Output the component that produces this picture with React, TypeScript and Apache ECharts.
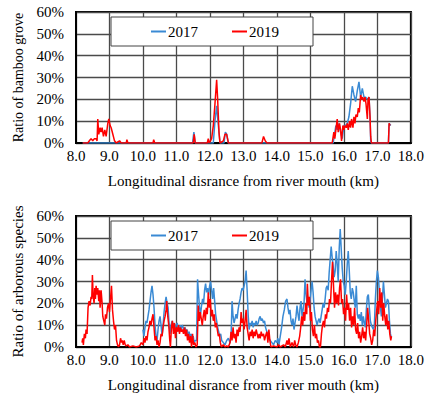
import React, { useEffect, useRef } from "react";
import * as echarts from "echarts";

type P = [number, number];

const years = ["2017", "2019"];
const xTicks = { min: 8, max: 18, interval: 1 };
const yTicks = { min: 0, max: 60, interval: 10 };
const titleTop = "Ratio of bamboo grove";
const titleBottom = "Ratio of arborous species";
const xTitle = "Longitudinal disrance from river mouth (km)";

const bamboo2017: P[] = [
  [8.2, 0], [11.48, 0], [11.52, 5], [11.56, 0], [12.1, 0], [12.15, 10], [12.2, 17], [12.25, 8], [12.3, 0],
  [12.42, 0], [12.46, 5], [12.5, 4], [12.55, 0], [15.68, 0], [15.72, 4], [15.76, 8], [15.8, 6], [15.85, 9],
  [15.9, 5], [15.95, 2], [16.0, 8], [16.05, 8], [16.1, 9], [16.15, 12], [16.2, 18], [16.25, 26], [16.3, 22],
  [16.35, 19], [16.4, 24], [16.45, 28], [16.5, 21], [16.55, 25], [16.6, 21], [16.65, 21], [16.7, 20],
  [16.75, 21], [16.78, 12], [16.8, 1], [16.82, 0], [17.33, 0], [17.35, 9], [17.4, 8],
];

const bamboo2019: P[] = [
  [8.2, 0], [8.35, 0], [8.4, 1], [8.45, 2], [8.5, 1], [8.55, 2], [8.6, 2], [8.63, 1], [8.65, 11], [8.68, 4],
  [8.72, 7], [8.75, 5], [8.78, 7], [8.82, 3], [8.86, 6], [8.9, 3], [8.95, 9], [8.98, 11], [9.02, 8], [9.05, 7],
  [9.1, 4], [9.15, 1], [9.2, 0], [9.3, 1], [9.35, 0], [9.5, 0], [9.52, 1.5], [9.55, 0], [10.3, 0], [10.32, 1.5],
  [10.35, 0], [11.5, 0], [11.53, 4], [11.56, 0], [11.92, 0], [11.95, 2], [11.98, 0], [12.05, 2], [12.1, 8],
  [12.15, 18], [12.2, 29], [12.23, 20], [12.27, 5], [12.3, 0], [12.4, 1], [12.45, 4], [12.5, 4], [12.55, 0],
  [13.55, 0], [13.6, 3], [13.65, 1], [13.7, 0], [15.65, 0], [15.7, 5], [15.73, 2], [15.76, 6], [15.8, 11],
  [15.83, 5], [15.87, 9], [15.9, 6], [15.93, 1], [15.97, 8], [16.0, 6], [16.03, 8], [16.07, 7], [16.1, 9],
  [16.13, 6], [16.17, 10], [16.2, 7], [16.23, 11], [16.27, 7], [16.3, 12], [16.33, 9], [16.36, 13], [16.4, 12],
  [16.43, 16], [16.46, 14], [16.5, 22], [16.53, 20], [16.56, 21], [16.6, 19], [16.63, 21], [16.66, 18],
  [16.7, 11], [16.72, 20], [16.75, 21], [16.78, 12], [16.8, 3], [16.82, 0], [17.33, 0], [17.35, 9],
  [17.38, 8], [17.4, 8],
];

const arbor2017: P[] = [
  [10.0, 8], [10.03, 5], [10.06, 9], [10.09, 12], [10.12, 11], [10.15, 14], [10.18, 17], [10.21, 21], [10.24, 25],
  [10.27, 28], [10.3, 24], [10.33, 18], [10.36, 10], [10.39, 5], [10.42, 3], [10.45, 8], [10.48, 12], [10.51, 14],
  [10.54, 10], [10.57, 5], [10.6, 10], [10.63, 16], [10.66, 20], [10.69, 23], [10.72, 20], [10.75, 18], [10.78, 11],
  [10.81, 6], [10.84, 10], [10.87, 12], [10.9, 9], [10.93, 11], [10.96, 8], [10.99, 10], [11.02, 11], [11.05, 9],
  [11.08, 7], [11.11, 10], [11.14, 8], [11.17, 10], [11.2, 9], [11.23, 7], [11.26, 9], [11.29, 6], [11.32, 8],
  [11.35, 5], [11.38, 7], [11.41, 4], [11.44, 6], [11.47, 3], [11.5, 5], [11.53, 2], [11.56, 3], [11.6, 3],
  [11.63, 31], [11.66, 24], [11.69, 18], [11.72, 15], [11.75, 19], [11.78, 22], [11.81, 20], [11.84, 26],
  [11.87, 29], [11.9, 25], [11.93, 27], [11.96, 24], [11.99, 28], [12.02, 30], [12.05, 26], [12.08, 22],
  [12.11, 27], [12.14, 21], [12.17, 15], [12.2, 12], [12.23, 9], [12.26, 7], [12.29, 5], [12.32, 6], [12.35, 3],
  [12.4, 2], [12.45, 1], [12.5, 3], [12.55, 4], [12.6, 2], [12.63, 4], [12.66, 21], [12.69, 14], [12.72, 11],
  [12.75, 13], [12.78, 15], [12.81, 13], [12.84, 17], [12.87, 20], [12.9, 22], [12.93, 25], [12.96, 27],
  [12.99, 26], [13.02, 28], [13.05, 30], [13.08, 35], [13.11, 26], [13.14, 15], [13.17, 8], [13.2, 11],
  [13.23, 10], [13.26, 12], [13.29, 9], [13.32, 11], [13.35, 10], [13.38, 12], [13.41, 10], [13.44, 11],
  [13.47, 13], [13.5, 14], [13.53, 12], [13.56, 13], [13.6, 11], [13.63, 12], [13.66, 9], [13.7, 7], [13.73, 5],
  [13.76, 4], [13.8, 3], [13.85, 2], [13.9, 1], [13.95, 3], [14.0, 2], [14.03, 4], [14.06, 1], [14.1, 5],
  [14.14, 9], [14.18, 14], [14.22, 17], [14.26, 21], [14.3, 22], [14.33, 18], [14.36, 15], [14.39, 17],
  [14.42, 12], [14.45, 10], [14.48, 13], [14.51, 8], [14.54, 11], [14.57, 14], [14.6, 19], [14.63, 15],
  [14.66, 12], [14.69, 18], [14.72, 21], [14.75, 14], [14.78, 17], [14.81, 20], [14.84, 31], [14.87, 24],
  [14.9, 20], [14.93, 22], [14.96, 18], [14.99, 21], [15.02, 26], [15.05, 30], [15.08, 25], [15.11, 18],
  [15.14, 14], [15.17, 12], [15.2, 10], [15.23, 12], [15.26, 13], [15.29, 11], [15.32, 14], [15.35, 17],
  [15.38, 20], [15.41, 18], [15.44, 22], [15.47, 27], [15.5, 28], [15.53, 26], [15.56, 34], [15.59, 40],
  [15.62, 46], [15.65, 41], [15.68, 37], [15.71, 32], [15.74, 35], [15.77, 44], [15.8, 38], [15.83, 30],
  [15.86, 45], [15.89, 54], [15.92, 45], [15.95, 36], [15.98, 30], [16.01, 28], [16.04, 24], [16.07, 30],
  [16.1, 38], [16.13, 44], [16.16, 35], [16.19, 25], [16.22, 22], [16.25, 27], [16.28, 25], [16.31, 21],
  [16.34, 18], [16.37, 28], [16.4, 15], [16.43, 13], [16.46, 15], [16.49, 12], [16.52, 16], [16.55, 10],
  [16.58, 14], [16.61, 11], [16.64, 9], [16.67, 17], [16.7, 23], [16.73, 24], [16.76, 18], [16.79, 12],
  [16.82, 10], [16.85, 9], [16.88, 8], [16.91, 10], [16.94, 22], [16.97, 30], [17.0, 35], [17.03, 32],
  [17.06, 25], [17.09, 18], [17.12, 14], [17.15, 22], [17.18, 30], [17.21, 24], [17.24, 18], [17.27, 20],
  [17.3, 22], [17.33, 21], [17.36, 12], [17.39, 6], [17.42, 4],
];

const arbor2019: P[] = [
  [8.18, 2], [8.2, 4], [8.22, 1], [8.25, 6], [8.28, 4], [8.3, 8], [8.33, 6], [8.36, 18], [8.39, 21], [8.42, 19],
  [8.45, 23], [8.47, 22], [8.49, 33], [8.51, 24], [8.54, 20], [8.56, 27], [8.58, 22], [8.6, 28], [8.63, 24],
  [8.65, 27], [8.68, 21], [8.7, 26], [8.72, 18], [8.75, 26], [8.78, 20], [8.8, 14], [8.83, 12], [8.86, 10],
  [8.88, 15], [8.91, 13], [8.94, 18], [8.97, 20], [9.0, 16], [9.03, 22], [9.06, 28], [9.09, 17], [9.12, 12],
  [9.15, 8], [9.18, 10], [9.21, 3], [9.24, 1], [9.27, 0], [9.3, 1], [9.33, 4], [9.36, 2], [9.38, 3], [9.41, 1],
  [9.44, 3], [9.47, 1], [9.5, 0.5], [9.55, 1], [9.6, 0], [9.7, 0.5], [9.8, 0], [9.9, 0.5], [9.95, 2], [10.0, 1],
  [10.03, 4], [10.06, 2], [10.09, 5], [10.12, 3], [10.15, 7], [10.18, 9], [10.21, 12], [10.24, 10], [10.27, 13],
  [10.3, 15], [10.33, 9], [10.36, 3], [10.39, 5], [10.42, 1], [10.45, 3], [10.48, 0], [10.51, 2], [10.54, 6],
  [10.57, 5], [10.6, 9], [10.63, 12], [10.66, 14], [10.69, 17], [10.71, 21], [10.74, 14], [10.77, 10], [10.8, 3],
  [10.82, 0], [10.85, 9], [10.88, 12], [10.91, 6], [10.94, 11], [10.97, 4], [11.0, 9], [11.03, 7], [11.06, 10],
  [11.09, 6], [11.12, 9], [11.15, 7], [11.18, 8], [11.21, 6], [11.24, 9], [11.27, 5], [11.3, 8], [11.33, 3],
  [11.36, 6], [11.39, 2], [11.42, 5], [11.45, 0], [11.48, 6], [11.51, 1], [11.55, 2], [11.58, 0], [11.62, 1],
  [11.65, 19], [11.68, 12], [11.71, 16], [11.74, 13], [11.77, 10], [11.8, 14], [11.83, 17], [11.86, 12],
  [11.89, 18], [11.92, 15], [11.95, 25], [11.98, 18], [12.01, 22], [12.04, 14], [12.07, 17], [12.1, 12],
  [12.13, 15], [12.16, 9], [12.19, 11], [12.22, 8], [12.25, 5], [12.28, 6], [12.31, 2], [12.34, 0], [12.4, 1],
  [12.45, 0], [12.5, 0.5], [12.55, 0], [12.6, 2], [12.63, 7], [12.66, 3], [12.69, 9], [12.72, 4], [12.75, 6],
  [12.78, 2], [12.81, 8], [12.84, 5], [12.87, 9], [12.9, 7], [12.93, 16], [12.96, 11], [12.99, 13], [13.02, 8],
  [13.05, 12], [13.08, 17], [13.11, 9], [13.14, 6], [13.17, 3], [13.2, 7], [13.23, 5], [13.26, 8], [13.29, 4],
  [13.32, 7], [13.35, 5], [13.38, 8], [13.41, 6], [13.44, 4], [13.47, 6], [13.5, 4], [13.53, 7], [13.56, 5],
  [13.6, 6], [13.63, 3], [13.66, 5], [13.7, 7], [13.73, 2], [13.76, 8], [13.79, 3], [13.82, 0], [13.9, 0.5],
  [14.0, 0], [14.05, 1], [14.1, 0], [14.15, 0.5], [14.2, 1], [14.25, 0], [14.3, 3], [14.33, 1], [14.36, 4],
  [14.4, 0], [14.45, 2], [14.5, 0], [14.53, 3], [14.56, 1], [14.6, 0], [14.64, 2], [14.68, 5], [14.71, 9],
  [14.74, 14], [14.77, 10], [14.8, 16], [14.83, 12], [14.86, 20], [14.89, 15], [14.91, 29], [14.94, 19],
  [14.97, 23], [15.0, 12], [15.03, 16], [15.06, 8], [15.09, 5], [15.12, 10], [15.15, 4], [15.18, 6], [15.21, 2],
  [15.24, 3], [15.27, 0], [15.3, 0], [15.33, 6], [15.36, 10], [15.39, 12], [15.42, 9], [15.45, 15], [15.48, 13],
  [15.51, 18], [15.54, 16], [15.57, 22], [15.6, 20], [15.63, 30], [15.66, 39], [15.69, 28], [15.72, 18],
  [15.75, 25], [15.78, 20], [15.81, 24], [15.84, 19], [15.87, 27], [15.9, 31], [15.93, 20], [15.96, 22],
  [15.99, 15], [16.02, 18], [16.05, 12], [16.08, 24], [16.11, 17], [16.14, 20], [16.17, 12], [16.2, 18],
  [16.23, 9], [16.26, 14], [16.29, 10], [16.32, 18], [16.35, 8], [16.38, 6], [16.41, 11], [16.44, 4], [16.47, 7],
  [16.5, 2], [16.53, 5], [16.56, 9], [16.59, 4], [16.62, 7], [16.65, 3], [16.68, 10], [16.71, 18], [16.74, 12],
  [16.77, 6], [16.8, 4], [16.83, 1], [16.86, 3], [16.89, 8], [16.92, 5], [16.95, 12], [16.98, 17], [17.01, 21],
  [17.04, 15], [17.07, 27], [17.1, 18], [17.13, 25], [17.16, 12], [17.19, 20], [17.22, 14], [17.25, 10],
  [17.28, 15], [17.31, 8], [17.34, 12], [17.37, 6], [17.4, 3], [17.42, 5],
];

const BLUE = "#3a8ad4";
const RED = "#ff0000";
const FONT = "Liberation Serif";

export default function App() {
  const ref = useRef<HTMLDivElement>(null);
  useEffect(() => {
    if (!ref.current) return;
    const chart = echarts.init(ref.current, undefined, { renderer: "svg" });
    const grids = [
      { left: 76, top: 12, width: 335, height: 131 },
      { left: 76, top: 216, width: 335, height: 131 },
    ];
    const xAxis = grids.map((_, i) => ({
      type: "value",
      gridIndex: i,
      min: xTicks.min,
      max: xTicks.max,
      interval: xTicks.interval,
      name: xTitle,
      nameLocation: "middle",
      nameGap: 30,
      nameTextStyle: { fontFamily: FONT, fontSize: 15, color: "#000" },
      axisLine: { show: true, onZero: false, lineStyle: { color: "#000", width: 2 } },
      axisTick: { show: false },
      axisLabel: {
        fontFamily: FONT,
        fontSize: 15,
        color: "#000",
        margin: 5,
        formatter: (v: number) => v.toFixed(1),
      },
      splitLine: { show: true, lineStyle: { color: "#4a4a4a", width: 1.3 } },
    }));
    const yAxis = grids.map((_, i) => ({
      type: "value",
      gridIndex: i,
      min: yTicks.min,
      max: yTicks.max,
      interval: yTicks.interval,
      name: i === 0 ? titleTop : titleBottom,
      nameLocation: "middle",
      nameGap: 48,
      nameTextStyle: { fontFamily: FONT, fontSize: i === 0 ? 14 : 15, color: "#000" },
      axisLine: { show: true, lineStyle: { color: "#000", width: 2 } },
      axisTick: { show: false },
      axisLabel: {
        fontFamily: FONT,
        fontSize: 15,
        color: "#000",
        margin: 12,
        formatter: (v: number) => `${v}%`,
      },
      splitLine: { show: true, lineStyle: { color: "#4a4a4a", width: 1.3 } },
    }));
    const legendBase = {
      data: years,
      left: 111,
      orient: "horizontal",
      icon: "rect",
      itemWidth: 15,
      itemHeight: 2,
      itemGap: 34,
      padding: [7, 34, 7, 40],
      backgroundColor: "#fff",
      borderColor: "#444",
      borderWidth: 1,
      textStyle: { fontFamily: FONT, fontSize: 15, color: "#000", padding: [0, 0, 0, -3] },
      selectedMode: false,
    };
    const mk = (name: string, data: P[], idx: number, color: string) => ({
      name,
      type: "line",
      xAxisIndex: idx,
      yAxisIndex: idx,
      data,
      showSymbol: false,
      symbol: "none",
      color,
      lineStyle: { color, width: 1.5 },
      z: color === RED ? 3 : 2,
    });
    chart.setOption({
      animation: false,
      backgroundColor: "#fff",
      grid: grids.map((g) => ({ ...g, show: true, borderColor: "#000", borderWidth: 2, backgroundColor: "transparent" })),
      xAxis,
      yAxis,
      legend: [
        { ...legendBase, top: 17 },
        { ...legendBase, top: 221 },
      ],
      series: [
        mk(years[0], bamboo2017, 0, BLUE),
        mk(years[1], bamboo2019, 0, RED),
        mk(years[0], arbor2017, 1, BLUE),
        mk(years[1], arbor2019, 1, RED),
      ],
    });
    return () => chart.dispose();
  }, []);
  return (
    <div
      ref={ref}
      style={{ position: "fixed", left: 0, top: 0, width: 427, height: 397, background: "#fff" }}
    />
  );
}
